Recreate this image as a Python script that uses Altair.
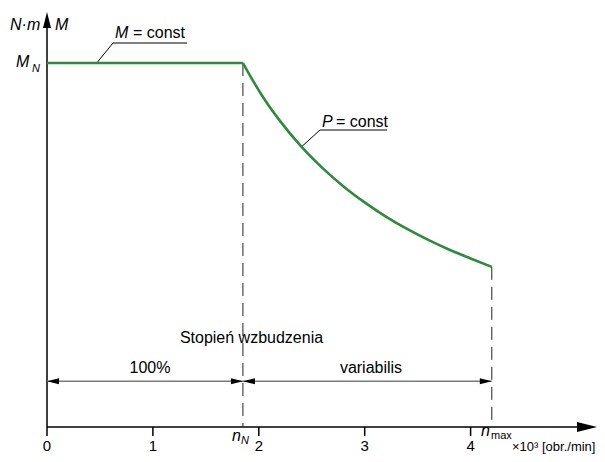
import altair as alt
import pandas as pd

# ---- data ----
tick_values = [0, 1, 2, 3, 4]
tick_labels = ["0", "1", "2", "3", "4"]
M_N = 1.0
n_N = 1.85
n_max = 4.2
# constant-torque section
flat_n = [0.0, 1.85]
flat_M = [1.0, 1.0]
# P = const section
curve_n = [1.85, 1.95, 2.05, 2.2, 2.4, 2.6, 2.8, 3.0, 3.2, 3.4, 3.6, 3.8, 4.0, 4.2]
curve_M = [1.0, 0.949, 0.902, 0.841, 0.771, 0.712, 0.661, 0.617, 0.578, 0.544, 0.514, 0.487, 0.463, 0.440]
dim_level = 0.126

W, H = 589, 446
XD = [-0.3683, -0.3683 + W / 105.9]
YD = [(419 - H) / 364, 419 / 364]
FONT = "Liberation Sans"
GREEN = "#2f8a3c"


def X(f="x"):
    return alt.X(f"{f}:Q", scale=alt.Scale(domain=XD, nice=False, zero=False), axis=None)


def Y(f="y"):
    return alt.Y(f"{f}:Q", scale=alt.Scale(domain=YD, nice=False, zero=False), axis=None)


def segs(rows, **mark):
    df = pd.DataFrame(rows, columns=["x", "y", "x2", "y2"])
    return alt.Chart(df).mark_rule(**mark).encode(
        x=X(), y=Y(), x2="x2:Q", y2="y2:Q")


def pts(rows, shape, size):
    df = pd.DataFrame(rows, columns=["x", "y"])
    return alt.Chart(df).mark_point(shape=shape, size=size, filled=True,
                                    color="black", opacity=1, strokeWidth=0).encode(x=X(), y=Y())


def txt(rows, size=16, style="normal", align="left", baseline="middle"):
    df = pd.DataFrame(rows, columns=["x", "y", "t"])
    return alt.Chart(df).mark_text(font=FONT, fontSize=size, fontStyle=style, align=align,
                                   baseline=baseline, color="black").encode(
        x=X(), y=Y(), text="t:N")


def px(p):
    return (p - 47) / 105.9


def py(p):
    return (427 - p) / 364


flat = alt.Chart(pd.DataFrame({"x": flat_n, "y": flat_M})).mark_line(
    color=GREEN, strokeWidth=2.6).encode(x=X(), y=Y())
curve_df = pd.DataFrame({"x": curve_n, "y": curve_M, "i": range(len(curve_n))})
curve = alt.Chart(curve_df).mark_line(color=GREEN, strokeWidth=2.6, interpolate="monotone").encode(
    x=X(), y=Y(), order="i:Q")

low = py(436)
axes = segs([[0, low, 0, py(26)], [0, 0, px(580), 0]], color="black", strokeWidth=1.5)
ticks = segs([[t, 0, t, low] for t in tick_values[1:]], color="black", strokeWidth=1.5)
dashed = segs([[n_N, M_N, n_N, 0], [n_max, curve_M[-1], n_max, 0]],
              color="#222222", strokeWidth=1, strokeDash=[13, 7])
dims = segs([[0, dim_level, n_max, dim_level]], color="#7a7a7a", strokeWidth=1.5)
leaders = segs([[px(96.7), 1.0, px(113), py(43)], [px(113), py(43), px(187), py(43)],
                [px(301.7), py(146.7), px(320), py(130)], [px(320), py(130), px(387), py(130)]],
               color="black", strokeWidth=1)

RIGHT = "M0,0L-2,-0.5L-2,0.5Z"
LEFT = "M0,0L2,-0.5L2,0.5Z"
UP = "M0,0L-0.5,2L0.5,2Z"
arr_r = pts([[n_N, dim_level], [n_max, dim_level]], RIGHT, 144)
arr_l = pts([[0, dim_level], [n_N, dim_level]], LEFT, 144)
ax_r = pts([[px(597), 0]], RIGHT, 400)
ax_u = pts([[0, py(12)]], UP, 256)

lab_y = py(451)
tick_text = txt([[v, lab_y, s] for v, s in zip(tick_values, tick_labels)], size=15,
                align="center", baseline="alphabetic")
unit_text = txt([[px(512), lab_y, "×10³ [obr./min]"]], size=13, baseline="alphabetic")
nN = txt([[px(232), py(436), "n"]], style="italic")
nN_sub = txt([[px(241), py(440.5), "N"]], size=11, style="italic")
nmax = txt([[px(481), py(431), "n"]], style="italic")
nmax_sub = txt([[px(491), py(436), "max"]], size=11)
MN = txt([[px(16), py(62), "M"]], style="italic")
MN_sub = txt([[px(32), py(68.5), "N"]], size=11, style="italic")
yunit = txt([[px(10), py(25), "N·m"]], style="italic")
ylab = txt([[px(55), py(25), "M"]], style="italic")
mc1 = txt([[px(115), py(33), "M"]], style="italic")
mc2 = txt([[px(133), py(33), "= const"]])
pc1 = txt([[px(322), py(121.7), "P"]], style="italic")
pc2 = txt([[px(336), py(121.7), "= const"]])
stop = txt([[px(251.5), py(338), "Stopień wzbudzenia"]], align="center")
p100 = txt([[px(150), py(368), "100%"]], align="center")
var = txt([[px(371), py(368), "variabilis"]], align="center")

chart = alt.layer(
    axes, ticks, dashed, dims, leaders, flat, curve, arr_r, arr_l, ax_r, ax_u,
    tick_text, unit_text, nN, nN_sub, nmax, nmax_sub, MN, MN_sub, yunit, ylab,
    mc1, mc2, pc1, pc2, stop, p100, var,
).properties(
    width=W, height=H, autosize=alt.AutoSizeParams(type="none"), padding=0,
    background="white",
).configure_view(stroke=None)

chart.save("out.html", embed_options={"renderer": "svg", "actions": False})
